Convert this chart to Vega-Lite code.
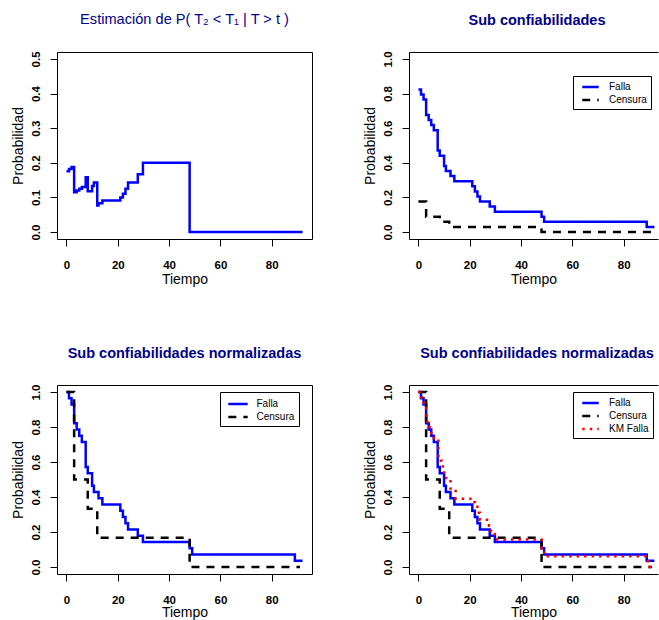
{
  "$schema": "https://vega.github.io/schema/vega-lite/v6.json",
  "background": "white",
  "padding": {"left": 10, "top": 11, "right": 0, "bottom": 0},
  "datasets": {
    "d1": [
      {"t": 0, "p": 0.176}, {"t": 1, "p": 0.182}, {"t": 2, "p": 0.188}, {"t": 3, "p": 0.115},
      {"t": 4, "p": 0.12}, {"t": 5, "p": 0.125}, {"t": 6, "p": 0.13}, {"t": 7.5, "p": 0.158},
      {"t": 8.3, "p": 0.118}, {"t": 10, "p": 0.133}, {"t": 10.7, "p": 0.143}, {"t": 12, "p": 0.077},
      {"t": 12.5, "p": 0.083}, {"t": 14, "p": 0.091}, {"t": 21, "p": 0.1}, {"t": 22, "p": 0.111},
      {"t": 23, "p": 0.125}, {"t": 24, "p": 0.143}, {"t": 27.8, "p": 0.167}, {"t": 29.8, "p": 0.2},
      {"t": 48, "p": 0}, {"t": 49, "p": 0}, {"t": 89, "p": 0}, {"t": 92, "p": 0}
    ],
    "d2": [
      {"serie": "Falla", "t": 0, "p": 0.824}, {"serie": "Falla", "t": 1, "p": 0.794}, {"serie": "Falla", "t": 2, "p": 0.765},
      {"serie": "Falla", "t": 3, "p": 0.676}, {"serie": "Falla", "t": 4, "p": 0.647}, {"serie": "Falla", "t": 5, "p": 0.618},
      {"serie": "Falla", "t": 6, "p": 0.588}, {"serie": "Falla", "t": 7.5, "p": 0.471}, {"serie": "Falla", "t": 8.3, "p": 0.441},
      {"serie": "Falla", "t": 10, "p": 0.382}, {"serie": "Falla", "t": 10.7, "p": 0.353}, {"serie": "Falla", "t": 12.5, "p": 0.324},
      {"serie": "Falla", "t": 14, "p": 0.294}, {"serie": "Falla", "t": 21, "p": 0.265}, {"serie": "Falla", "t": 22, "p": 0.235},
      {"serie": "Falla", "t": 23, "p": 0.206}, {"serie": "Falla", "t": 24, "p": 0.176}, {"serie": "Falla", "t": 27.8, "p": 0.147},
      {"serie": "Falla", "t": 29.8, "p": 0.118}, {"serie": "Falla", "t": 48, "p": 0.088}, {"serie": "Falla", "t": 49, "p": 0.059},
      {"serie": "Falla", "t": 89, "p": 0.029}, {"serie": "Falla", "t": 92, "p": 0.029},
      {"serie": "Censura", "t": 0, "p": 0.176}, {"serie": "Censura", "t": 3, "p": 0.088}, {"serie": "Censura", "t": 8.3, "p": 0.059},
      {"serie": "Censura", "t": 12, "p": 0.029}, {"serie": "Censura", "t": 48, "p": 0}, {"serie": "Censura", "t": 91, "p": 0}
    ],
    "d3": [
      {"serie": "Falla", "t": 0, "p": 1}, {"serie": "Falla", "t": 1, "p": 0.964}, {"serie": "Falla", "t": 2, "p": 0.929},
      {"serie": "Falla", "t": 3, "p": 0.821}, {"serie": "Falla", "t": 4, "p": 0.786}, {"serie": "Falla", "t": 5, "p": 0.75},
      {"serie": "Falla", "t": 6, "p": 0.714}, {"serie": "Falla", "t": 7.5, "p": 0.571}, {"serie": "Falla", "t": 8.3, "p": 0.536},
      {"serie": "Falla", "t": 10, "p": 0.464}, {"serie": "Falla", "t": 10.7, "p": 0.429}, {"serie": "Falla", "t": 12.5, "p": 0.393},
      {"serie": "Falla", "t": 14, "p": 0.357}, {"serie": "Falla", "t": 21, "p": 0.321}, {"serie": "Falla", "t": 22, "p": 0.286},
      {"serie": "Falla", "t": 23, "p": 0.25}, {"serie": "Falla", "t": 24, "p": 0.214}, {"serie": "Falla", "t": 27.8, "p": 0.179},
      {"serie": "Falla", "t": 29.8, "p": 0.143}, {"serie": "Falla", "t": 48, "p": 0.107}, {"serie": "Falla", "t": 49, "p": 0.071},
      {"serie": "Falla", "t": 89, "p": 0.036}, {"serie": "Falla", "t": 92, "p": 0.036},
      {"serie": "Censura", "t": 0, "p": 1}, {"serie": "Censura", "t": 3, "p": 0.5}, {"serie": "Censura", "t": 8.3, "p": 0.333},
      {"serie": "Censura", "t": 12, "p": 0.167}, {"serie": "Censura", "t": 48, "p": 0}, {"serie": "Censura", "t": 91, "p": 0}
    ],
    "d4": [
      {"serie": "Falla", "t": 0, "p": 1}, {"serie": "Falla", "t": 1, "p": 0.964}, {"serie": "Falla", "t": 2, "p": 0.929},
      {"serie": "Falla", "t": 3, "p": 0.821}, {"serie": "Falla", "t": 4, "p": 0.786}, {"serie": "Falla", "t": 5, "p": 0.75},
      {"serie": "Falla", "t": 6, "p": 0.714}, {"serie": "Falla", "t": 7.5, "p": 0.571}, {"serie": "Falla", "t": 8.3, "p": 0.536},
      {"serie": "Falla", "t": 10, "p": 0.464}, {"serie": "Falla", "t": 10.7, "p": 0.429}, {"serie": "Falla", "t": 12.5, "p": 0.393},
      {"serie": "Falla", "t": 14, "p": 0.357}, {"serie": "Falla", "t": 21, "p": 0.321}, {"serie": "Falla", "t": 22, "p": 0.286},
      {"serie": "Falla", "t": 23, "p": 0.25}, {"serie": "Falla", "t": 24, "p": 0.214}, {"serie": "Falla", "t": 27.8, "p": 0.179},
      {"serie": "Falla", "t": 29.8, "p": 0.143}, {"serie": "Falla", "t": 48, "p": 0.107}, {"serie": "Falla", "t": 49, "p": 0.071},
      {"serie": "Falla", "t": 89, "p": 0.036}, {"serie": "Falla", "t": 92, "p": 0.036},
      {"serie": "Censura", "t": 0, "p": 1}, {"serie": "Censura", "t": 3, "p": 0.5}, {"serie": "Censura", "t": 8.3, "p": 0.333},
      {"serie": "Censura", "t": 12, "p": 0.167}, {"serie": "Censura", "t": 48, "p": 0}, {"serie": "Censura", "t": 91, "p": 0},
      {"serie": "KM Falla", "t": 0, "p": 1}, {"serie": "KM Falla", "t": 1, "p": 0.97}, {"serie": "KM Falla", "t": 2, "p": 0.94},
      {"serie": "KM Falla", "t": 3, "p": 0.83}, {"serie": "KM Falla", "t": 4, "p": 0.8}, {"serie": "KM Falla", "t": 5, "p": 0.765},
      {"serie": "KM Falla", "t": 6, "p": 0.735}, {"serie": "KM Falla", "t": 7.8, "p": 0.607}, {"serie": "KM Falla", "t": 9, "p": 0.575},
      {"serie": "KM Falla", "t": 10, "p": 0.54}, {"serie": "KM Falla", "t": 10.8, "p": 0.5}, {"serie": "KM Falla", "t": 12.5, "p": 0.448},
      {"serie": "KM Falla", "t": 14.5, "p": 0.39}, {"serie": "KM Falla", "t": 21, "p": 0.37}, {"serie": "KM Falla", "t": 22, "p": 0.345},
      {"serie": "KM Falla", "t": 23, "p": 0.31}, {"serie": "KM Falla", "t": 24, "p": 0.27}, {"serie": "KM Falla", "t": 27.5, "p": 0.236},
      {"serie": "KM Falla", "t": 28.3, "p": 0.205}, {"serie": "KM Falla", "t": 29.8, "p": 0.157}, {"serie": "KM Falla", "t": 48, "p": 0.105},
      {"serie": "KM Falla", "t": 49, "p": 0.061}, {"serie": "KM Falla", "t": 89.5, "p": 0}, {"serie": "KM Falla", "t": 92, "p": 0}
    ]
  },
  "config": {
    "font": "Liberation Sans",
    "view": {"stroke": "black", "strokeWidth": 1},
    "title": {"font": "Liberation Sans", "fontSize": 14.5, "color": "#00008B", "fontWeight": "bold", "anchor": "middle", "frame": "group", "baseline": "alphabetic", "offset": 22.5},
    "axis": {
      "labelFont": "Liberation Sans", "labelFontWeight": "bold", "labelFontSize": 11.5, "labelColor": "black",
      "tickColor": "black", "tickSize": 7, "tickWidth": 1,
      "titleFont": "Liberation Sans", "titleFontWeight": "normal", "titleFontSize": 14, "titleColor": "black",
      "grid": false, "domain": false, "domainColor": "black", "domainWidth": 1, "labelFlush": false, "labelOverlap": false
    },
    "axisY": {"labelAngle": 270, "labelAlign": "center", "labelBaseline": "bottom", "labelPadding": 9, "titlePadding": 5},
    "axisX": {"labelPadding": 13, "titlePadding": 2},
    "legend": {
      "title": null, "orient": "none", "symbolType": "M-1.5,0H1.5", "symbolSize": 121, "symbolStrokeWidth": 2.5,
      "labelFont": "Liberation Sans", "labelFontSize": 10, "labelColor": "black", "strokeColor": "black", "fillColor": "white",
      "padding": 4, "symbolOffset": 6.5, "labelOffset": 11.5, "rowPadding": 1
    }
  },
  "columns": 2,
  "spacing": {"row": 146, "column": 97},
  "bounds": "flush",
  "resolve": {
    "scale": {"color": "independent", "strokeDash": "independent", "x": "independent", "y": "independent"},
    "legend": {"color": "independent", "strokeDash": "independent"}
  },
  "concat": [
    {
      "width": 255, "height": 187,
      "title": {"text": "Estimación de P( T₂ < T₁ | T > t )", "fontWeight": "normal", "fontSize": 14.6, "offset": 24.5},
      "data": {"name": "d1"},
      "mark": {"type": "line", "interpolate": "step-after", "strokeWidth": 2.5, "color": "#0000FF"},
      "encoding": {
        "x": {"field": "t", "type": "quantitative", "scale": {"domain": [-3.68, 95.68], "nice": false, "zero": false}, "axis": {"values": [0, 20, 40, 60, 80], "title": "Tiempo", "labelOverlap": false}},
        "y": {"field": "p", "type": "quantitative", "scale": {"domain": [-0.02, 0.52], "nice": false, "zero": false}, "axis": {"values": [0, 0.1, 0.2, 0.3, 0.4, 0.5], "format": ".1f", "title": "Probabilidad", "labelOverlap": false}}
      }
    },
    {
      "width": 249, "height": 187,
      "view": {"stroke": null},
      "title": {"text": "Sub confiabilidades", "dx": 3.5},
      "data": {"name": "d2"},
      "resolve": {"scale": {"x": "independent"}},
      "layer": [
        {
          "transform": [{"filter": "datum.serie == 'Falla'"}],
          "mark": {"type": "line", "interpolate": "step-after", "strokeWidth": 2.5},
          "encoding": {
            "x": {"field": "t", "type": "quantitative", "scale": {"domain": [-3.68, 93.4], "nice": false, "zero": false}, "axis": {"values": [0, 20, 40, 60, 80], "title": "Tiempo", "domain": true, "orient": "bottom", "labelOverlap": false}},
            "y": {"field": "p", "type": "quantitative", "scale": {"domain": [-0.04, 1.04], "nice": false, "zero": false}, "axis": {"values": [0, 0.2, 0.4, 0.6, 0.8, 1.0], "format": ".1f", "title": "Probabilidad", "domain": true, "labelOverlap": false}},
            "color": {"field": "serie", "type": "nominal", "scale": {"domain": ["Falla", "Censura"], "range": ["#0000FF", "#000000"]}, "legend": {"legendX": 164, "legendY": 24}},
            "strokeDash": {"field": "serie", "type": "nominal", "scale": {"domain": ["Falla", "Censura"], "range": [[1, 0], [8, 7]]}, "legend": {"legendX": 164, "legendY": 24}}
          }
        },
        {
          "transform": [{"filter": "datum.serie == 'Censura'"}],
          "mark": {"type": "line", "interpolate": "step-after", "strokeWidth": 2.5},
          "encoding": {
            "x": {"field": "t", "type": "quantitative", "scale": {"domain": [-3.68, 93.4], "nice": false, "zero": false}, "axis": null},
            "y": {"field": "p", "type": "quantitative", "axis": {"values": [0, 0.2, 0.4, 0.6, 0.8, 1.0], "format": ".1f", "title": "Probabilidad", "domain": true, "labelOverlap": false}},
            "color": {"field": "serie", "type": "nominal"},
            "strokeDash": {"field": "serie", "type": "nominal"}
          }
        },
        {
          "mark": {"type": "line", "strokeOpacity": 0},
          "encoding": {
            "x": {"field": "t", "type": "quantitative", "scale": {"domain": [-3.68, 93.4], "nice": false, "zero": false}, "axis": {"orient": "top", "labels": false, "ticks": false, "title": null, "domain": true}},
            "y": {"field": "p", "type": "quantitative", "axis": {"values": [0, 0.2, 0.4, 0.6, 0.8, 1.0], "format": ".1f", "title": "Probabilidad", "domain": true, "labelOverlap": false}}
          }
        }
      ]
    },
    {
      "width": 255, "height": 189,
      "title": {"text": "Sub confiabilidades normalizadas"},
      "data": {"name": "d3"},
      "layer": [
        {
          "transform": [{"filter": "datum.serie == 'Falla'"}],
          "mark": {"type": "line", "interpolate": "step-after", "strokeWidth": 2.5},
          "encoding": {
            "x": {"field": "t", "type": "quantitative", "scale": {"domain": [-3.68, 95.68], "nice": false, "zero": false}, "axis": {"values": [0, 20, 40, 60, 80], "title": "Tiempo", "titlePadding": 0, "labelOverlap": false}},
            "y": {"field": "p", "type": "quantitative", "scale": {"domain": [-0.04, 1.04], "nice": false, "zero": false}, "axis": {"values": [0, 0.2, 0.4, 0.6, 0.8, 1.0], "format": ".1f", "title": "Probabilidad", "labelOverlap": false}},
            "color": {"field": "serie", "type": "nominal", "scale": {"domain": ["Falla", "Censura"], "range": ["#0000FF", "#000000"]}, "legend": {"legendX": 163, "legendY": 7, "symbolSize": 166, "symbolOffset": 6, "labelOffset": 10.5, "rowPadding": -1.5}},
            "strokeDash": {"field": "serie", "type": "nominal", "scale": {"domain": ["Falla", "Censura"], "range": [[1, 0], [8, 7]]}, "legend": {"legendX": 163, "legendY": 7, "symbolSize": 166, "symbolOffset": 6, "labelOffset": 10.5, "rowPadding": -1.5}}
          }
        },
        {
          "transform": [{"filter": "datum.serie == 'Censura'"}],
          "mark": {"type": "line", "interpolate": "step-after", "strokeWidth": 2.5},
          "encoding": {
            "x": {"field": "t", "type": "quantitative", "axis": {"values": [0, 20, 40, 60, 80], "title": "Tiempo", "titlePadding": 0, "labelOverlap": false}},
            "y": {"field": "p", "type": "quantitative", "axis": {"values": [0, 0.2, 0.4, 0.6, 0.8, 1.0], "format": ".1f", "title": "Probabilidad", "labelOverlap": false}},
            "color": {"field": "serie", "type": "nominal"},
            "strokeDash": {"field": "serie", "type": "nominal"}
          }
        }
      ]
    },
    {
      "width": 249, "height": 189,
      "view": {"stroke": null},
      "title": {"text": "Sub confiabilidades normalizadas", "dx": 3.5},
      "data": {"name": "d4"},
      "resolve": {"scale": {"x": "independent"}},
      "layer": [
        {
          "transform": [{"filter": "datum.serie == 'Falla'"}],
          "mark": {"type": "line", "interpolate": "step-after", "strokeWidth": 2.5},
          "encoding": {
            "x": {"field": "t", "type": "quantitative", "scale": {"domain": [-3.68, 93.4], "nice": false, "zero": false}, "axis": {"values": [0, 20, 40, 60, 80], "title": "Tiempo", "titlePadding": 0, "domain": true, "orient": "bottom", "labelOverlap": false}},
            "y": {"field": "p", "type": "quantitative", "scale": {"domain": [-0.04, 1.04], "nice": false, "zero": false}, "axis": {"values": [0, 0.2, 0.4, 0.6, 0.8, 1.0], "format": ".1f", "title": "Probabilidad", "domain": true, "labelOverlap": false}},
            "color": {"field": "serie", "type": "nominal", "scale": {"domain": ["Falla", "Censura", "KM Falla"], "range": ["#0000FF", "#000000", "#FF0000"]}, "legend": {"legendX": 164, "legendY": 7}},
            "strokeDash": {"field": "serie", "type": "nominal", "scale": {"domain": ["Falla", "Censura", "KM Falla"], "range": [[1, 0], [8, 7], [2.5, 5]]}, "legend": {"legendX": 164, "legendY": 7}}
          }
        },
        {
          "transform": [{"filter": "datum.serie == 'Censura'"}],
          "mark": {"type": "line", "interpolate": "step-after", "strokeWidth": 2.5},
          "encoding": {
            "x": {"field": "t", "type": "quantitative", "scale": {"domain": [-3.68, 93.4], "nice": false, "zero": false}, "axis": null},
            "y": {"field": "p", "type": "quantitative", "axis": {"values": [0, 0.2, 0.4, 0.6, 0.8, 1.0], "format": ".1f", "title": "Probabilidad", "domain": true, "labelOverlap": false}},
            "color": {"field": "serie", "type": "nominal"},
            "strokeDash": {"field": "serie", "type": "nominal"}
          }
        },
        {
          "transform": [{"filter": "datum.serie == 'KM Falla'"}],
          "mark": {"type": "line", "interpolate": "step-after", "strokeWidth": 2.5},
          "encoding": {
            "x": {"field": "t", "type": "quantitative", "scale": {"domain": [-3.68, 93.4], "nice": false, "zero": false}, "axis": null},
            "y": {"field": "p", "type": "quantitative", "axis": {"values": [0, 0.2, 0.4, 0.6, 0.8, 1.0], "format": ".1f", "title": "Probabilidad", "domain": true, "labelOverlap": false}},
            "color": {"field": "serie", "type": "nominal"},
            "strokeDash": {"field": "serie", "type": "nominal"}
          }
        },
        {
          "mark": {"type": "line", "strokeOpacity": 0},
          "encoding": {
            "x": {"field": "t", "type": "quantitative", "scale": {"domain": [-3.68, 93.4], "nice": false, "zero": false}, "axis": {"orient": "top", "labels": false, "ticks": false, "title": null, "domain": true}},
            "y": {"field": "p", "type": "quantitative", "axis": {"values": [0, 0.2, 0.4, 0.6, 0.8, 1.0], "format": ".1f", "title": "Probabilidad", "domain": true, "labelOverlap": false}}
          }
        }
      ]
    }
  ]
}
